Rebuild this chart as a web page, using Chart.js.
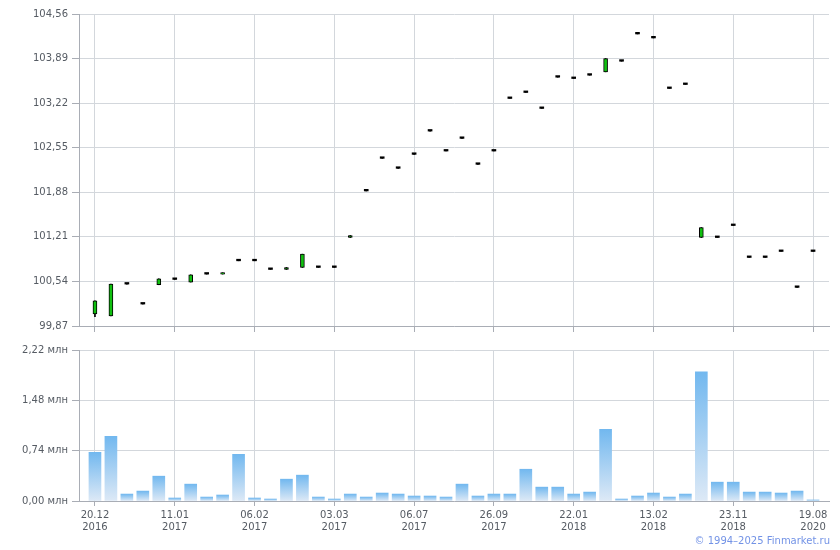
<!DOCTYPE html>
<html><head><meta charset="utf-8">
<script src="https://cdn.jsdelivr.net/npm/chart.js@4"></script>
<style>
html,body{margin:0;padding:0;background:#fff;}
#wrap{position:relative;width:840px;height:550px;}
#c1{position:absolute;left:0;top:0;}
#c2{position:absolute;left:0;top:340px;}
#copy{position:absolute;right:10px;top:535px;font:10px "DejaVu Sans",sans-serif;color:#7393e6;}
</style></head>
<body><div id="wrap">
<canvas id="c1" width="840" height="340"></canvas>
<canvas id="c2" width="840" height="210"></canvas>
<div id="copy">© 1994–2025 Finmarket.ru</div>
</div>
<script>
// ---- data ----
const openP  = [100.05,100.02,100.50,100.20,100.49,100.57,100.53,100.65,100.65,100.85,100.85,100.72,100.72,100.75,100.75,100.75,101.20,101.90,102.39,102.24,102.45,102.80,102.50,102.69,102.30,102.50,103.29,103.38,103.14,103.61,103.59,103.64,103.69,103.85,104.26,104.20,103.44,103.50,101.20,101.20,101.38,100.90,100.90,100.99,100.45,100.99];
const closeP = [100.25,100.50,100.50,100.20,100.58,100.57,100.64,100.65,100.67,100.85,100.85,100.72,100.75,100.95,100.75,100.75,101.23,101.90,102.39,102.24,102.45,102.80,102.50,102.69,102.30,102.50,103.29,103.38,103.14,103.61,103.59,103.64,103.89,103.85,104.26,104.20,103.44,103.50,101.35,101.20,101.38,100.90,100.90,100.99,100.45,100.99];
const lowP   = [100.01,100.02,100.50,100.20,100.49,100.57,100.53,100.65,100.65,100.85,100.85,100.72,100.72,100.75,100.75,100.75,101.20,101.90,102.39,102.24,102.45,102.80,102.50,102.69,102.30,102.50,103.29,103.38,103.14,103.61,103.59,103.64,103.69,103.85,104.26,104.20,103.44,103.50,101.20,101.20,101.38,100.90,100.90,100.99,100.45,100.99];
const highP  = [100.25,100.50,100.50,100.20,100.58,100.57,100.64,100.65,100.67,100.85,100.85,100.72,100.75,100.95,100.75,100.75,101.23,101.90,102.39,102.24,102.45,102.80,102.50,102.69,102.30,102.50,103.29,103.38,103.14,103.61,103.59,103.64,103.89,103.85,104.26,104.20,103.44,103.50,101.35,101.20,101.38,100.90,100.90,100.99,100.45,100.99];
const volume = [0.716,0.949,0.102,0.146,0.365,0.044,0.248,0.058,0.088,0.686,0.044,0.029,0.321,0.380,0.058,0.029,0.102,0.058,0.117,0.102,0.073,0.073,0.058,0.248,0.073,0.102,0.102,0.467,0.204,0.204,0.102,0.131,1.052,0.029,0.073,0.117,0.058,0.102,1.899,0.277,0.277,0.131,0.131,0.117,0.146,0.015];
const xTickIdx = [0,5,10,15,20,25,30,35,40,45];
const xTickLabels = [["20.12","2016"],["11.01","2017"],["06.02","2017"],["03.03","2017"],["06.07","2017"],["26.09","2017"],["22.01","2018"],["13.02","2018"],["23.11","2018"],["19.08","2020"]];
const priceTicks = [99.87,100.54,101.21,101.88,102.55,103.22,103.89,104.56];
const volTicks = [0,0.74,1.48,2.22];

const font = {family:'"DejaVu Sans", sans-serif', size:10};
const txt = '#555b63';
const gridC = '#d3d7dc';
const axisC = '#a9adb5';
const fmt = v => v.toFixed(2).replace('.', ',');

function xScale(showLabels, tl, h){
  return {
    type:'linear', min:-1, max:46, offset:false,
    afterBuildTicks: s => { s.ticks = xTickIdx.map(v => ({value:v})); },
    afterFit: s => { s.height = h; },
    grid:{color:gridC, tickColor:axisC, tickLength:tl, drawTicks:true, offset:false},
    border:{color:axisC},
    ticks:{display:showLabels, font, color:txt, padding:3, maxRotation:0, autoSkip:false,
      callback: (v) => { const k = xTickIdx.indexOf(v); return k>=0 ? xTickLabels[k] : ''; }}
  };
}
const idx = openP.map((_, i) => i);

Chart.defaults.animation = false;

new Chart(document.getElementById('c1'), {
  type:'bar',
  data:{datasets:[
    {data: idx.map(i => ({x:i, y:[lowP[i], highP[i]]})), grouped:false, barThickness:1,
     backgroundColor:'#000', borderWidth:0, order:2},
    {data: idx.map(i => ({x:i, y:[openP[i], closeP[i]]})), grouped:false, barThickness:4,
     minBarLength:1.6,
     backgroundColor: c => (openP[c.dataIndex] === closeP[c.dataIndex] ? '#000' : '#10c010'),
     borderColor:'#000',
     borderWidth: c => (openP[c.dataIndex] === closeP[c.dataIndex] ? 0 : 1),
     borderSkipped:false, order:1}
  ]},
  options:{
    responsive:false, maintainAspectRatio:false,
    layout:{padding:{left:0, right:11, top:14, bottom:0}},
    plugins:{legend:{display:false}, tooltip:{enabled:false}},
    scales:{
      x: xScale(false, 6, 14),
      y:{min:99.87, max:104.56,
         afterBuildTicks: s => { s.ticks = priceTicks.map(v => ({value:v})); },
         afterFit: s => { s.width = 79; },
         grid:{color:gridC, tickColor:axisC, tickLength:7},
         border:{color:axisC},
         ticks:{font, color:txt, padding:4, callback: v => fmt(v)}}
    }
  }
});

function volGrad(ctx){
  const chart = ctx.chart;
  const ys = chart.scales && chart.scales.y;
  if (!ys || !chart.chartArea) return '#8cc4f0';
  const v = ctx.raw && ctx.raw.y !== undefined ? ctx.raw.y : 0;
  const top = ys.getPixelForValue(v), bot = ys.getPixelForValue(0);
  if (!(bot > top)) return '#8cc4f0';
  const g = chart.ctx.createLinearGradient(0, top, 0, bot);
  g.addColorStop(0, '#72b8ef');
  g.addColorStop(1, '#dde9f6');
  return g;
}

new Chart(document.getElementById('c2'), {
  type:'bar',
  data:{datasets:[
    {data: idx.map(i => ({x:i, y:volume[i]})), barThickness:12, backgroundColor:volGrad, borderWidth:0}
  ]},
  options:{
    responsive:false, maintainAspectRatio:false,
    layout:{padding:{left:0, right:11, top:9, bottom:0}},
    plugins:{legend:{display:false}, tooltip:{enabled:false}},
    scales:{
      x: xScale(true, 5, 49),
      y:{min:0, max:2.22,
         afterBuildTicks: s => { s.ticks = volTicks.map(v => ({value:v})); },
         afterFit: s => { s.width = 79; },
         grid:{color:gridC, tickColor:axisC, tickLength:7},
         border:{color:axisC},
         ticks:{font, color:txt, padding:4, callback: v => fmt(v) + ' млн'}}
    }
  }
});
</script>
</body></html>
